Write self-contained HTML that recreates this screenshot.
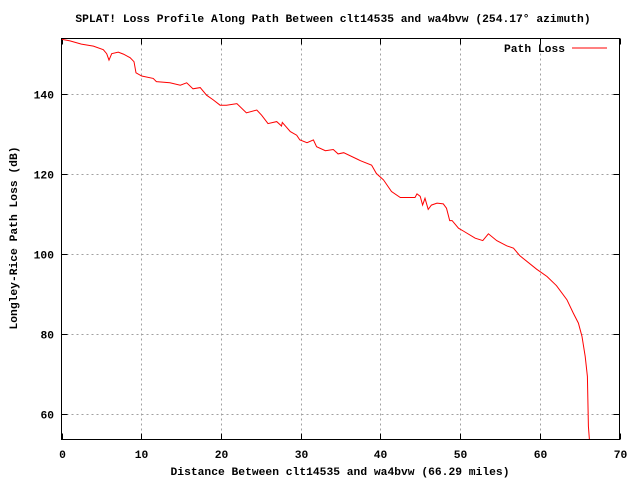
<!DOCTYPE html>
<html><head><meta charset="utf-8"><style>
html,body{margin:0;padding:0;background:#fff;}
svg{display:block;font-family:"Liberation Mono","DejaVu Sans Mono",monospace;font-weight:bold;font-size:11.3px;}
</style></head><body>
<svg id="chart" width="640" height="480" viewBox="0 0 640 480" xmlns="http://www.w3.org/2000/svg">
<rect width="640" height="480" fill="#fff"/>
<text x="333" y="22" text-anchor="middle">SPLAT! Loss Profile Along Path Between clt14535 and wa4bvw (254.17° azimuth)</text>
<text x="340" y="475" text-anchor="middle">Distance Between clt14535 and wa4bvw (66.29 miles)</text>
<text transform="translate(17,238) rotate(-90)" text-anchor="middle">Longley-Rice Path Loss (dB)</text>
<g id="grid"></g><g id="ticks"></g>
<g id="series"></g>
<rect x="61.5" y="38.5" width="558" height="401" fill="none" stroke="#000" stroke-width="1"/>
<g>
<text x="565" y="52" text-anchor="end">Path Loss</text>
<line x1="572" y1="48" x2="607" y2="48" stroke="#f00" stroke-width="1"/>
</g>
</svg>
<script>
const xTicks=[0,10,20,30,40,50,60,70];
const yTicks=[60,80,100,120,140];
const distance=[0,1.07,2.5,4.0,5.25,5.67,5.96,6.3,7.13,7.76,8.6,9.1,9.35,10.06,11.5,11.9,13.6,14.9,15.7,16.5,17.4,18.2,19.05,19.9,20.7,22.0,23.2,24.5,25.1,25.9,27.0,27.6,27.7,28.7,29.5,29.9,30.8,31.6,32.0,33.1,34.1,34.7,35.4,37.2,37.5,38.9,39.5,40.4,41.4,42.5,44.35,44.6,45.0,45.3,45.6,46.0,46.4,47.1,47.9,48.3,48.7,49.0,49.8,50.4,51.9,52.85,53.55,54.6,55.85,56.7,57.5,59.6,60.9,62.1,63.4,64.2,64.85,65.3,65.7,65.97,66.1,66.22];
const pathLoss=[153.8,153.4,152.6,152.1,151.2,150.2,148.6,150.2,150.6,150.1,149.2,148.2,145.4,144.6,144,143.2,142.9,142.3,142.9,141.4,141.7,139.8,138.6,137.3,137.3,137.7,135.4,136.1,134.8,132.7,133.2,132.1,133,130.7,129.8,128.6,127.9,128.6,126.9,125.9,126.2,125.1,125.4,123.7,123.4,122.3,120.2,118.6,115.7,114.2,114.2,115.1,114.5,112.3,114,111.2,112.3,112.8,112.6,111.5,108.4,108.4,106.5,105.8,104,103.4,105.1,103.4,102.1,101.5,99.6,96.25,94.4,92.1,88.6,85.25,82.75,79.4,74.4,69.4,56.9,53.6];
const X0=61.5,X1=619.5,Y0=439.5,Y1=38.5,xMin=0,xMax=70,yMin=53.6,yMax=154;
function sx(v){return X0+(v-xMin)/(xMax-xMin)*(X1-X0);}
function sy(v){return Y0-(v-yMin)/(yMax-yMin)*(Y0-Y1);}
const NS="http://www.w3.org/2000/svg";
const grid=document.getElementById('grid'),ticks=document.getElementById('ticks'),series=document.getElementById('series');
function mk(tag,attrs,parent){const e=document.createElementNS(NS,tag);for(const k in attrs)e.setAttribute(k,attrs[k]);parent.appendChild(e);return e;}
xTicks.forEach(t=>{
  const x=Math.round(sx(t))+0.5;
  if(t>0&&t<70){const g=mk('line',{x1:x,y1:Y1,x2:x,y2:Y0,stroke:'#a0a0a0','stroke-dasharray':'2,3'},grid);
  
  }
  const tk=mk('path',{d:`M${x},${Y0}v-6M${x},${Y1}v6`,stroke:'#000'},ticks);
  
  
  const l=mk('text',{x:x,y:458,'text-anchor':'middle'},ticks);l.textContent=t;
  
  
});
yTicks.forEach(t=>{
  const y=Math.round(sy(t))+0.5;
  const g=mk('line',{x1:X0,y1:y,x2:X1,y2:y,stroke:'#a0a0a0','stroke-dasharray':'2,3'},grid);
  
  
  const tk=mk('path',{d:`M${X0},${y}h6M${X1},${y}h-6`,stroke:'#000'},ticks);
  
  
  const l=mk('text',{x:54,y:y+4,'text-anchor':'end'},ticks);l.textContent=t;
  
  
});
const pts=distance.map((d,i)=>sx(d).toFixed(1)+','+sy(pathLoss[i]).toFixed(1)).join(' ');
const pl=mk('polyline',{points:pts,fill:'none',stroke:'#f00','stroke-width':1},series);


</script>
</body></html>
